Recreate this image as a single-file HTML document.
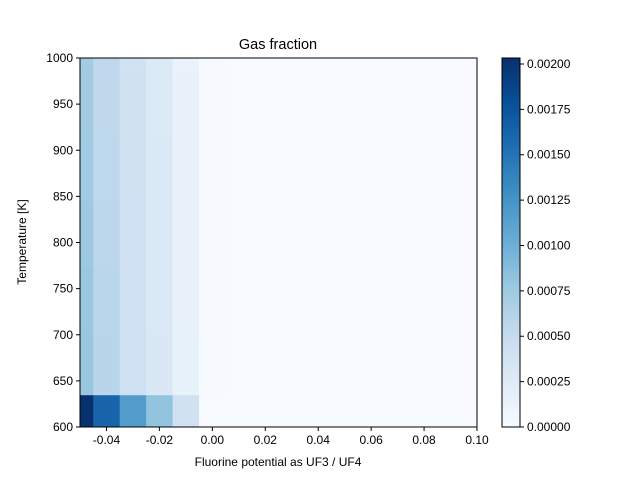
<!DOCTYPE html>
<html><head><meta charset="utf-8"><style>
body{margin:0;background:#fff;font-family:"Liberation Sans","DejaVu Sans",sans-serif}
</style></head><body>
<svg id="c" width="640" height="480" viewBox="0 0 640 480" xmlns="http://www.w3.org/2000/svg" font-family="Liberation Sans, DejaVu Sans, sans-serif"></svg>
<script>
const xCenters=[-0.05,-0.04,-0.03,-0.02,-0.01,0.0,0.01,0.02,0.03,0.04,0.05,0.06,0.07,0.08,0.09,0.10];
const tCenters=[600,670,740,810,880,950,1020];
const colValsLow=[0.00202,0.00162,0.00117,0.00082,0.00040,0,0,0,0,0,0,0,0,0,0,0];
const colValsHigh=[0.00080,0.00060,0.00043,0.00030,0.00015,0.00001,0,0,0,0,0,0,0,0,0,0];
const xTicks=[-0.04,-0.02,0.00,0.02,0.04,0.06,0.08,0.10];
const yTicks=[600,650,700,750,800,850,900,950,1000];
const cbTicks=[0,0.00025,0.0005,0.00075,0.001,0.00125,0.0015,0.00175,0.002];
const vmax=0.002033;
const L=80,R=477,T=58,B=427;
const xs=v=>L+(v+0.05)/0.15*(R-L);
const ys=v=>B-(v-600)/400*(B-T);
const blues=["#f7fbff","#deebf7","#c6dbef","#9ecae1","#6baed6","#4292c6","#2171b5","#08519c","#08306b"];
function cmap(t){t=Math.max(0,Math.min(1,t));const p=t*8,i=Math.min(7,Math.floor(p)),f=p-i;
const a=blues[i],b=blues[i+1];const h=(s,k)=>parseInt(s.substr(1+2*k,2),16);
return "rgb("+[0,1,2].map(k=>Math.round(h(a,k)+(h(b,k)-h(a,k))*f)).join(",")+")";}
const svg=document.getElementById('c');const NS="http://www.w3.org/2000/svg";
function el(tag,attrs,parent){const e=document.createElementNS(NS,tag);for(const k in attrs)e.setAttribute(k,attrs[k]);(parent||svg).appendChild(e);return e;}
const g=el('g',{});


for(let i=0;i<xCenters.length;i++){
 const x0=Math.max(L,xs(xCenters[i]-0.005)),x1=Math.min(R,xs(xCenters[i]+0.005));
 for(let j=0;j<tCenters.length;j++){
  const y0=Math.min(B,ys(tCenters[j]-35)),y1=Math.max(T,ys(tCenters[j]+35));
  if(y1>=y0)continue;
  const v=j==0?colValsLow[i]:colValsHigh[i]*(1-0.015*j);
  const r=el('rect',{x:x0,y:y1,width:x1-x0+0.5,height:y0-y1+0.5,fill:cmap(v/vmax)},g);
  
  
 }
}
const fr=el('rect',{x:L,y:T,width:R-L,height:B-T,fill:'none',stroke:'#000','stroke-width':1});


xTicks.forEach(v=>{const x=xs(v);el('line',{x1:x,x2:x,y1:B,y2:B+4,stroke:'#000'});
 const t=el('text',{x:x,y:B+17,'font-size':12,'text-anchor':'middle'});t.textContent=v.toFixed(2);
 
 });
yTicks.forEach(v=>{const y=ys(v);el('line',{x1:L-4,x2:L,y1:y,y2:y,stroke:'#000'});
 const t=el('text',{x:L-7,y:y+4,'font-size':12,'text-anchor':'end'});t.textContent=v;
 
 });
const CL=502,CR=520;
const cb=el('g',{});


for(let k=0;k<100;k++){const y0=B-(k+1)*(B-T)/100;el('rect',{x:CL,y:y0,width:CR-CL,height:(B-T)/100+0.6,fill:cmap((k+0.5)/100)},cb);}
el('rect',{x:CL,y:T,width:CR-CL,height:B-T,fill:'none',stroke:'#000'},cb);
cbTicks.forEach(v=>{const y=B-v/vmax*(B-T);el('line',{x1:CR,x2:CR+4,y1:y,y2:y,stroke:'#000'},cb);
 const t=el('text',{x:CR+7,y:y+4,'font-size':12},cb);t.textContent=v.toFixed(5);
 
 });
const ti=el('text',{x:278,y:49,'font-size':14.5,'text-anchor':'middle'});ti.textContent='Gas fraction';


const xl=el('text',{x:278,y:466,'font-size':12,'text-anchor':'middle'});xl.textContent='Fluorine potential as UF3 / UF4';


const yl=el('text',{x:0,y:0,'font-size':12,'text-anchor':'middle',transform:'translate(26,242) rotate(-90)'});yl.textContent='Temperature [K]';


</script>
</body></html>
